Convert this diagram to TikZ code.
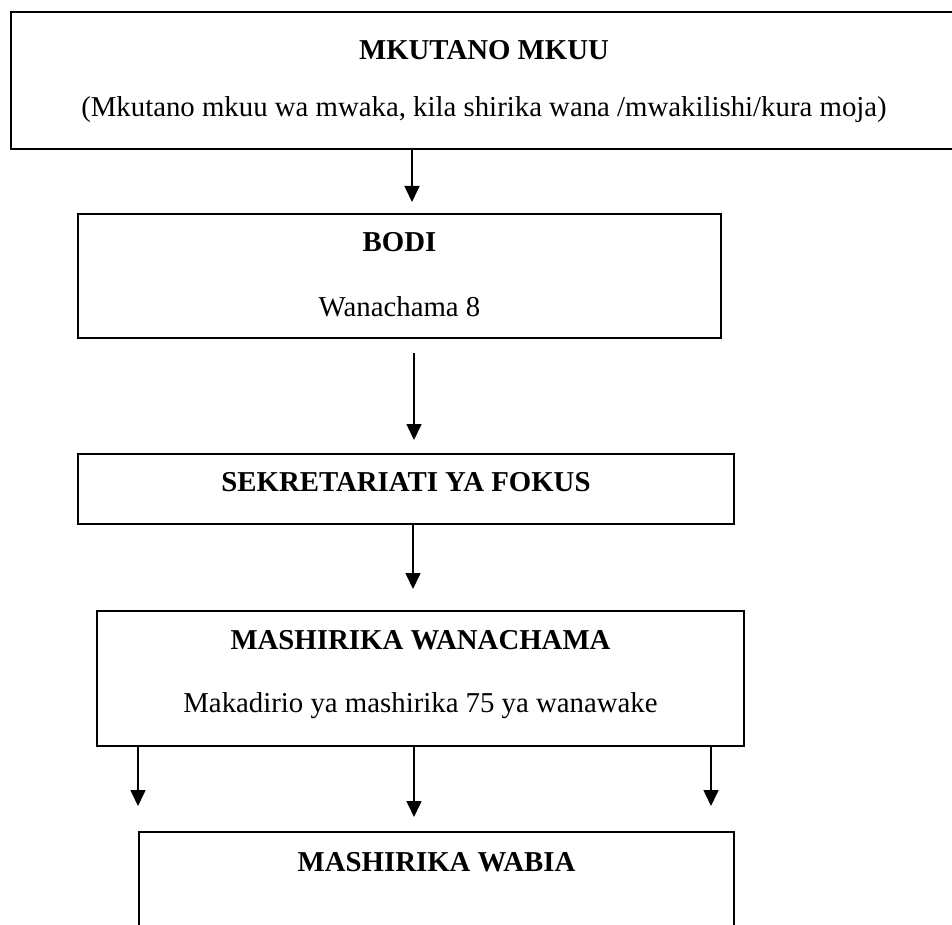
\documentclass[tikz,border=0pt]{standalone}
\usepackage{fontspec}
\setmainfont{Liberation Serif}
\usepackage{tikz}
\usetikzlibrary{positioning}
\usetikzlibrary{arrows.meta}
\tikzset{orgbox/.style={draw, line width=0.8pt, inner sep=0pt},
orgtitle/.style={font=\fontsize{14.4}{17}\selectfont\bfseries, anchor=base, inner sep=0pt},
orginfo/.style={font=\fontsize{14.4}{17}\selectfont, anchor=base, inner sep=0pt}}

\begin{document}
\begin{tikzpicture}[x=1pt, y=1pt, arr/.style={line width=0.8pt, -{Triangle[length=8pt,width=7.5pt]}}]
	\useasboundingbox (0,0) rectangle (476,-462.5);
	% boxes
	\node[orgbox, minimum width=473pt, minimum height=68.5pt] (mkuu) at (242,-40.25) {};
	\node[orgbox, minimum width=321.5pt, minimum height=62pt] (bodi) at (199.75,-138) {};
	\node[orgbox, minimum width=328pt, minimum height=35pt] (sekr) at (203,-244.5) {};
	\node[orgbox, minimum width=323.5pt, minimum height=67.5pt] (wana) at (210.25,-339.25) {};
	\node[orgbox, minimum width=297.5pt, minimum height=64pt] (wabia) at (218.25,-448) {};
	% texts
	\node[orgtitle] (mkuut) at ([yshift=-24pt]mkuu.north) {MKUTANO MKUU};
	\node[orginfo] (mkuui) at ([yshift=-52.5pt]mkuu.north) {(Mkutano mkuu wa mwaka, kila shirika wana /mwakilishi/kura moja)};
	\node[orgtitle] (bodit) at ([yshift=-19pt]bodi.north) {BODI};
	\node[orginfo] (bodii) at ([yshift=-51.5pt]bodi.north) {Wanachama 8};
	\node[orgtitle] (sekrt) at ([yshift=-19pt]sekr.north) {SEKRETARIATI YA FOKUS};
	\node[orgtitle] (wanat) at ([yshift=-19.5pt]wana.north) {MASHIRIKA WANACHAMA};
	\node[orginfo] (wanai) at ([yshift=-51pt]wana.north) {Makadirio ya mashirika 75 ya wanawake};
	\node[orgtitle] (wabiat) at ([yshift=-20pt]wabia.north) {MASHIRIKA WABIA};
	% arrow tips
	\coordinate (t1) at (206,-101);
	\coordinate (t2) at (207,-220);
	\coordinate (t3) at (206.5,-294.5);
	\coordinate (t4) at (69,-403);
	\coordinate (t5) at (207,-408.5);
	\coordinate (t6) at (355.5,-403);
	\draw[arr] (mkuu.south -| t1) -- (t1);
	\draw[arr] ([yshift=-7pt]bodi.south -| t2) -- (t2);
	\draw[arr] (sekr.south -| t3) -- (t3);
	\draw[arr] (wana.south -| t4) -- (t4);
	\draw[arr] (wana.south -| t5) -- (t5);
	\draw[arr] (wana.south -| t6) -- (t6);
\end{tikzpicture}
\end{document}
